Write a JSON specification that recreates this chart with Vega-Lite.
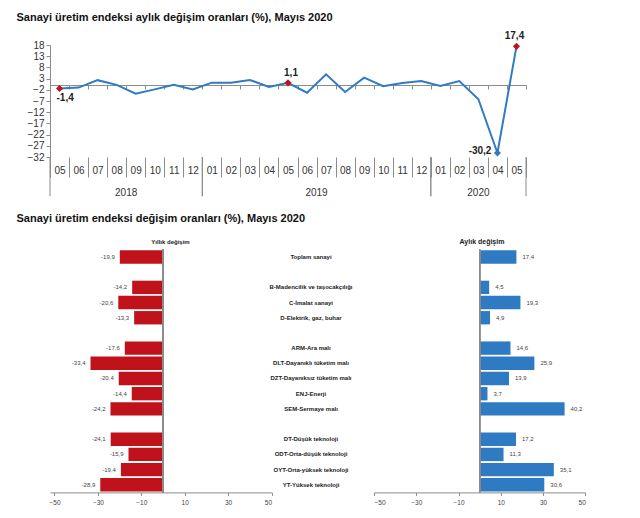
{
  "$schema": "https://vega.github.io/schema/vega-lite/v6.json",
  "background": "white",
  "padding": {"left": 16, "top": 12, "right": 5, "bottom": 5},
  "config": {"view": {"stroke": null}, "font": "Liberation Sans"},
  "datasets": {
    "monthly": [
      {"m": "2018-05", "v": -1.4, "mk": "r", "lab": "-1,4"},
      {"m": "2018-06", "v": -1.0},
      {"m": "2018-07", "v": 2.3},
      {"m": "2018-08", "v": 0.2},
      {"m": "2018-09", "v": -3.7},
      {"m": "2018-10", "v": -1.8},
      {"m": "2018-11", "v": 0.2},
      {"m": "2018-12", "v": -1.8},
      {"m": "2019-01", "v": 1.2},
      {"m": "2019-02", "v": 1.2},
      {"m": "2019-03", "v": 2.4},
      {"m": "2019-04", "v": -0.7},
      {"m": "2019-05", "v": 1.1, "mk": "r", "lab": "1,1"},
      {"m": "2019-06", "v": -3.3},
      {"m": "2019-07", "v": 4.9},
      {"m": "2019-08", "v": -3.0},
      {"m": "2019-09", "v": 3.4},
      {"m": "2019-10", "v": -0.4},
      {"m": "2019-11", "v": 1.0},
      {"m": "2019-12", "v": 1.9},
      {"m": "2020-01", "v": -0.3},
      {"m": "2020-02", "v": 1.9},
      {"m": "2020-03", "v": -6.2},
      {"m": "2020-04", "v": -30.2, "mk": "b", "lab": "-30,2"},
      {"m": "2020-05", "v": 17.4, "mk": "r", "lab": "17,4"}
    ],
    "years": [
      {"yr": "2018", "first": "2018-05", "last": "2018-12", "mid": "2018-09", "even": true},
      {"yr": "2019", "first": "2019-01", "last": "2019-12", "mid": "2019-07", "even": true},
      {"yr": "2020", "first": "2020-01", "last": "2020-05", "mid": "2020-03", "even": false}
    ],
    "bars": [
      {"cat": "Toplam sanayi", "yv": -19.9, "yl": "-19,9", "mv": 17.4, "ml": "17,4"},
      {"cat": "B-Madencilik ve taşocakçılığı", "yv": -14.2, "yl": "-14,2", "mv": 4.5, "ml": "4,5"},
      {"cat": "C-İmalat sanayi", "yv": -20.6, "yl": "-20,6", "mv": 19.3, "ml": "19,3"},
      {"cat": "D-Elektrik, gaz, buhar", "yv": -13.3, "yl": "-13,3", "mv": 4.9, "ml": "4,9"},
      {"cat": "ARM-Ara malı", "yv": -17.6, "yl": "-17,6", "mv": 14.6, "ml": "14,6"},
      {"cat": "DLT-Dayanıklı tüketim malı", "yv": -33.4, "yl": "-33,4", "mv": 25.9, "ml": "25,9"},
      {"cat": "DZT-Dayanıksız tüketim malı", "yv": -20.4, "yl": "-20,4", "mv": 13.9, "ml": "13,9"},
      {"cat": "ENJ-Enerji", "yv": -14.4, "yl": "-14,4", "mv": 3.7, "ml": "3,7"},
      {"cat": "SEM-Sermaye malı", "yv": -24.2, "yl": "-24,2", "mv": 40.2, "ml": "40,2"},
      {"cat": "DT-Düşük teknoloji", "yv": -24.1, "yl": "-24,1", "mv": 17.2, "ml": "17,2"},
      {"cat": "ODT-Orta-düşük teknoloji", "yv": -15.9, "yl": "-15,9", "mv": 11.3, "ml": "11,3"},
      {"cat": "OYT-Orta-yüksek teknoloji", "yv": -19.4, "yl": "-19,4", "mv": 35.1, "ml": "35,1"},
      {"cat": "YT-Yüksek teknoloji", "yv": -28.9, "yl": "-28,9", "mv": 30.6, "ml": "30,6"}
    ]
  },
  "bounds": "flush",
  "spacing": 92.4,
  "vconcat": [
    {
      "width": 476,
      "height": 112,
      "title": {"text": "Sanayi üretim endeksi  aylık değişim oranları (%), Mayıs 2020", "anchor": "start", "frame": "group", "dx": -33.5, "offset": 8, "fontSize": 11, "fontWeight": "bold", "color": "#111111", "font": "Liberation Sans"},
      "resolve": {"axis": {"x": "independent"}},
      "layer": [
        {
          "data": {"name": "monthly"},
          "mark": {"type": "line", "color": "#2E7BC4", "strokeWidth": 2},
          "encoding": {
            "x": {"field": "m", "type": "ordinal", "scale": {"type": "band", "paddingInner": 0, "paddingOuter": 0},
              "axis": {"orient": "bottom", "title": null, "domain": false, "tickBand": "extent", "tickSize": 20, "tickColor": "#8c8c8c", "labelExpr": "length(datum.label) == 7 ? substring(datum.label, 5) : ''", "labelAngle": 0, "labelPadding": -12, "labelFontSize": 10, "labelColor": "#333333", "labelOverlap": false, "grid": false}},
            "y": {"field": "v", "type": "quantitative", "scale": {"domain": [-32, 18], "nice": false, "zero": false},
              "axis": {"title": null, "values": [18, 13, 8, 3, -2, -7, -12, -17, -22, -27, -32], "tickCount": 20, "labelOverlap": false, "grid": false, "domainColor": "#8c8c8c", "tickColor": "#8c8c8c", "tickSize": 4, "labelFontSize": 10, "labelColor": "#333333", "labelPadding": 2}}
          }
        },
        {
          "data": {"name": "monthly"},
          "transform": [{"filter": "datum.mk != null"}],
          "mark": {"type": "point", "shape": "diamond", "filled": true, "size": 50, "opacity": 1},
          "encoding": {
            "x": {"field": "m", "type": "ordinal",
              "axis": {"orient": "bottom", "offset": -72, "title": null, "labels": false, "domain": true, "domainColor": "#8c8c8c", "tickBand": "extent", "tickSize": 4, "tickColor": "#8c8c8c", "grid": false}},
            "y": {"field": "v", "type": "quantitative"},
            "color": {"field": "mk", "type": "nominal", "scale": {"domain": ["r", "b"], "range": ["#C0121B", "#2E7BC4"]}, "legend": null}
          }
        },
        {
          "data": {"name": "monthly"},
          "transform": [{"filter": "datum.m == '2018-05'"}],
          "mark": {"type": "text", "align": "left", "baseline": "middle", "dx": -3, "dy": 10, "fontSize": 10, "fontWeight": "bold", "color": "#222222"},
          "encoding": {"x": {"field": "m", "type": "ordinal", "axis": null}, "y": {"field": "v", "type": "quantitative"}, "text": {"field": "lab"}}
        },
        {
          "data": {"name": "monthly"},
          "transform": [{"filter": "datum.m == '2019-05'"}],
          "mark": {"type": "text", "align": "center", "baseline": "middle", "dx": 3, "dy": -10, "fontSize": 10, "fontWeight": "bold", "color": "#222222"},
          "encoding": {"x": {"field": "m", "type": "ordinal", "axis": null}, "y": {"field": "v", "type": "quantitative"}, "text": {"field": "lab"}}
        },
        {
          "data": {"name": "monthly"},
          "transform": [{"filter": "datum.m == '2020-05'"}],
          "mark": {"type": "text", "align": "center", "baseline": "middle", "dx": -2, "dy": -10, "fontSize": 10, "fontWeight": "bold", "color": "#222222"},
          "encoding": {"x": {"field": "m", "type": "ordinal", "axis": null}, "y": {"field": "v", "type": "quantitative"}, "text": {"field": "lab"}}
        },
        {
          "data": {"name": "monthly"},
          "transform": [{"filter": "datum.m == '2020-04'"}],
          "mark": {"type": "text", "align": "right", "baseline": "middle", "dx": -6, "dy": -2, "fontSize": 10, "fontWeight": "bold", "color": "#222222"},
          "encoding": {"x": {"field": "m", "type": "ordinal", "axis": null}, "y": {"field": "v", "type": "quantitative"}, "text": {"field": "lab"}}
        },
        {
          "data": {"name": "years"},
          "mark": {"type": "rule", "color": "#8c8c8c", "strokeWidth": 1},
          "encoding": {"x": {"field": "first", "type": "ordinal", "bandPosition": 0, "axis": null}, "y": {"datum": -32}, "y2": {"datum": -49.5}}
        },
        {
          "data": {"name": "years"},
          "mark": {"type": "rule", "color": "#8c8c8c", "strokeWidth": 1},
          "encoding": {"x": {"field": "last", "type": "ordinal", "bandPosition": 1, "axis": null}, "y": {"datum": -32}, "y2": {"datum": -49.5}}
        },
        {
          "data": {"name": "years"},
          "transform": [{"filter": "datum.even"}],
          "mark": {"type": "text", "baseline": "middle", "align": "center", "fontSize": 10, "color": "#333333"},
          "encoding": {"x": {"field": "mid", "type": "ordinal", "bandPosition": 0, "axis": null}, "y": {"datum": -48}, "text": {"field": "yr"}}
        },
        {
          "data": {"name": "years"},
          "transform": [{"filter": "!datum.even"}],
          "mark": {"type": "text", "baseline": "middle", "align": "center", "fontSize": 10, "color": "#333333"},
          "encoding": {"x": {"field": "mid", "type": "ordinal", "bandPosition": 0.5, "axis": null}, "y": {"datum": -48}, "text": {"field": "yr"}}
        }
      ]
    },
    {
      "data": {"name": "bars"},
      "title": {"text": "Sanayi üretim endeksi  değişim oranları (%), Mayıs 2020", "anchor": "start", "frame": "group", "dx": -33.5, "offset": 14, "fontSize": 11, "fontWeight": "bold", "color": "#111111", "font": "Liberation Sans"},
      "bounds": "flush",
      "spacing": 0,
      "hconcat": [
        {
          "width": 221.5,
          "height": 243,
          "title": {"text": "Yıllık değişim", "anchor": "middle", "dx": 9.75, "offset": 4, "fontSize": 6, "fontWeight": "bold", "color": "#222222"},
          "layer": [
            {
              "mark": {"type": "bar", "color": "#C0121B"},
              "encoding": {
                "y": {"field": "cat", "type": "nominal", "scale": {"domain": ["Toplam sanayi", " ", "B-Madencilik ve taşocakçılığı", "C-İmalat sanayi", "D-Elektrik, gaz, buhar", "  ", "ARM-Ara malı", "DLT-Dayanıklı tüketim malı", "DZT-Dayanıksız tüketim malı", "ENJ-Enerji", "SEM-Sermaye malı", "   ", "DT-Düşük teknoloji", "ODT-Orta-düşük teknoloji", "OYT-Orta-yüksek teknoloji", "YT-Yüksek teknoloji"], "paddingInner": 0.12, "paddingOuter": 0.06}, "axis": null},
                "x": {"field": "yv", "type": "quantitative", "scale": {"domain": [-52.07, 50], "nice": false, "zero": false},
                  "axis": {"title": null, "values": [-50, -30, -10, 10, 30, 50], "tickCount": 20, "grid": false, "domainColor": "#8c8c8c", "tickColor": "#8c8c8c", "tickSize": 3, "labelFontSize": 6.5, "labelColor": "#444444", "labelPadding": 4}}
              }
            },
            {
              "mark": {"type": "rule", "color": "#8c8c8c", "strokeWidth": 1},
              "encoding": {"x": {"datum": 0}}
            },
            {
              "mark": {"type": "text", "align": "right", "baseline": "middle", "dx": -5, "fontSize": 6, "color": "#444444"},
              "encoding": {
                "y": {"field": "cat", "type": "nominal"},
                "x": {"field": "yv", "type": "quantitative"},
                "text": {"field": "yl"}
              }
            }
          ]
        },
        {
          "width": 102,
          "height": 243,
          "mark": {"type": "text", "align": "center", "baseline": "middle", "dx": -12, "fontSize": 6, "fontWeight": "bold", "color": "#222222"},
          "encoding": {
            "y": {"field": "cat", "type": "nominal", "scale": {"domain": ["Toplam sanayi", " ", "B-Madencilik ve taşocakçılığı", "C-İmalat sanayi", "D-Elektrik, gaz, buhar", "  ", "ARM-Ara malı", "DLT-Dayanıklı tüketim malı", "DZT-Dayanıksız tüketim malı", "ENJ-Enerji", "SEM-Sermaye malı", "   ", "DT-Düşük teknoloji", "ODT-Orta-düşük teknoloji", "OYT-Orta-yüksek teknoloji", "YT-Yüksek teknoloji"], "paddingInner": 0.12, "paddingOuter": 0.06}, "axis": null},
            "text": {"field": "cat"}
          }
        },
        {
          "width": 211.3,
          "height": 243,
          "title": {"text": "Aylık değişim", "anchor": "middle", "dx": 2.35, "offset": 4, "fontSize": 7, "fontWeight": "bold", "color": "#222222"},
          "layer": [
            {
              "mark": {"type": "bar", "color": "#2E7BC4"},
              "encoding": {
                "y": {"field": "cat", "type": "nominal", "scale": {"domain": ["Toplam sanayi", " ", "B-Madencilik ve taşocakçılığı", "C-İmalat sanayi", "D-Elektrik, gaz, buhar", "  ", "ARM-Ara malı", "DLT-Dayanıklı tüketim malı", "DZT-Dayanıksız tüketim malı", "ENJ-Enerji", "SEM-Sermaye malı", "   ", "DT-Düşük teknoloji", "ODT-Orta-düşük teknoloji", "OYT-Orta-yüksek teknoloji", "YT-Yüksek teknoloji"], "paddingInner": 0.12, "paddingOuter": 0.06}, "axis": null},
                "x": {"field": "mv", "type": "quantitative", "scale": {"domain": [-50, 50], "nice": false, "zero": false},
                  "axis": {"title": null, "values": [-50, -30, -10, 10, 30, 50], "tickCount": 20, "grid": false, "domainColor": "#8c8c8c", "tickColor": "#8c8c8c", "tickSize": 3, "labelFontSize": 6.5, "labelColor": "#444444", "labelPadding": 4}}
              }
            },
            {
              "mark": {"type": "rule", "color": "#8c8c8c", "strokeWidth": 1},
              "encoding": {"x": {"datum": 0}}
            },
            {
              "mark": {"type": "text", "align": "left", "baseline": "middle", "dx": 6, "fontSize": 6, "color": "#444444"},
              "encoding": {
                "y": {"field": "cat", "type": "nominal"},
                "x": {"field": "mv", "type": "quantitative"},
                "text": {"field": "ml"}
              }
            }
          ]
        }
      ]
    }
  ]
}
